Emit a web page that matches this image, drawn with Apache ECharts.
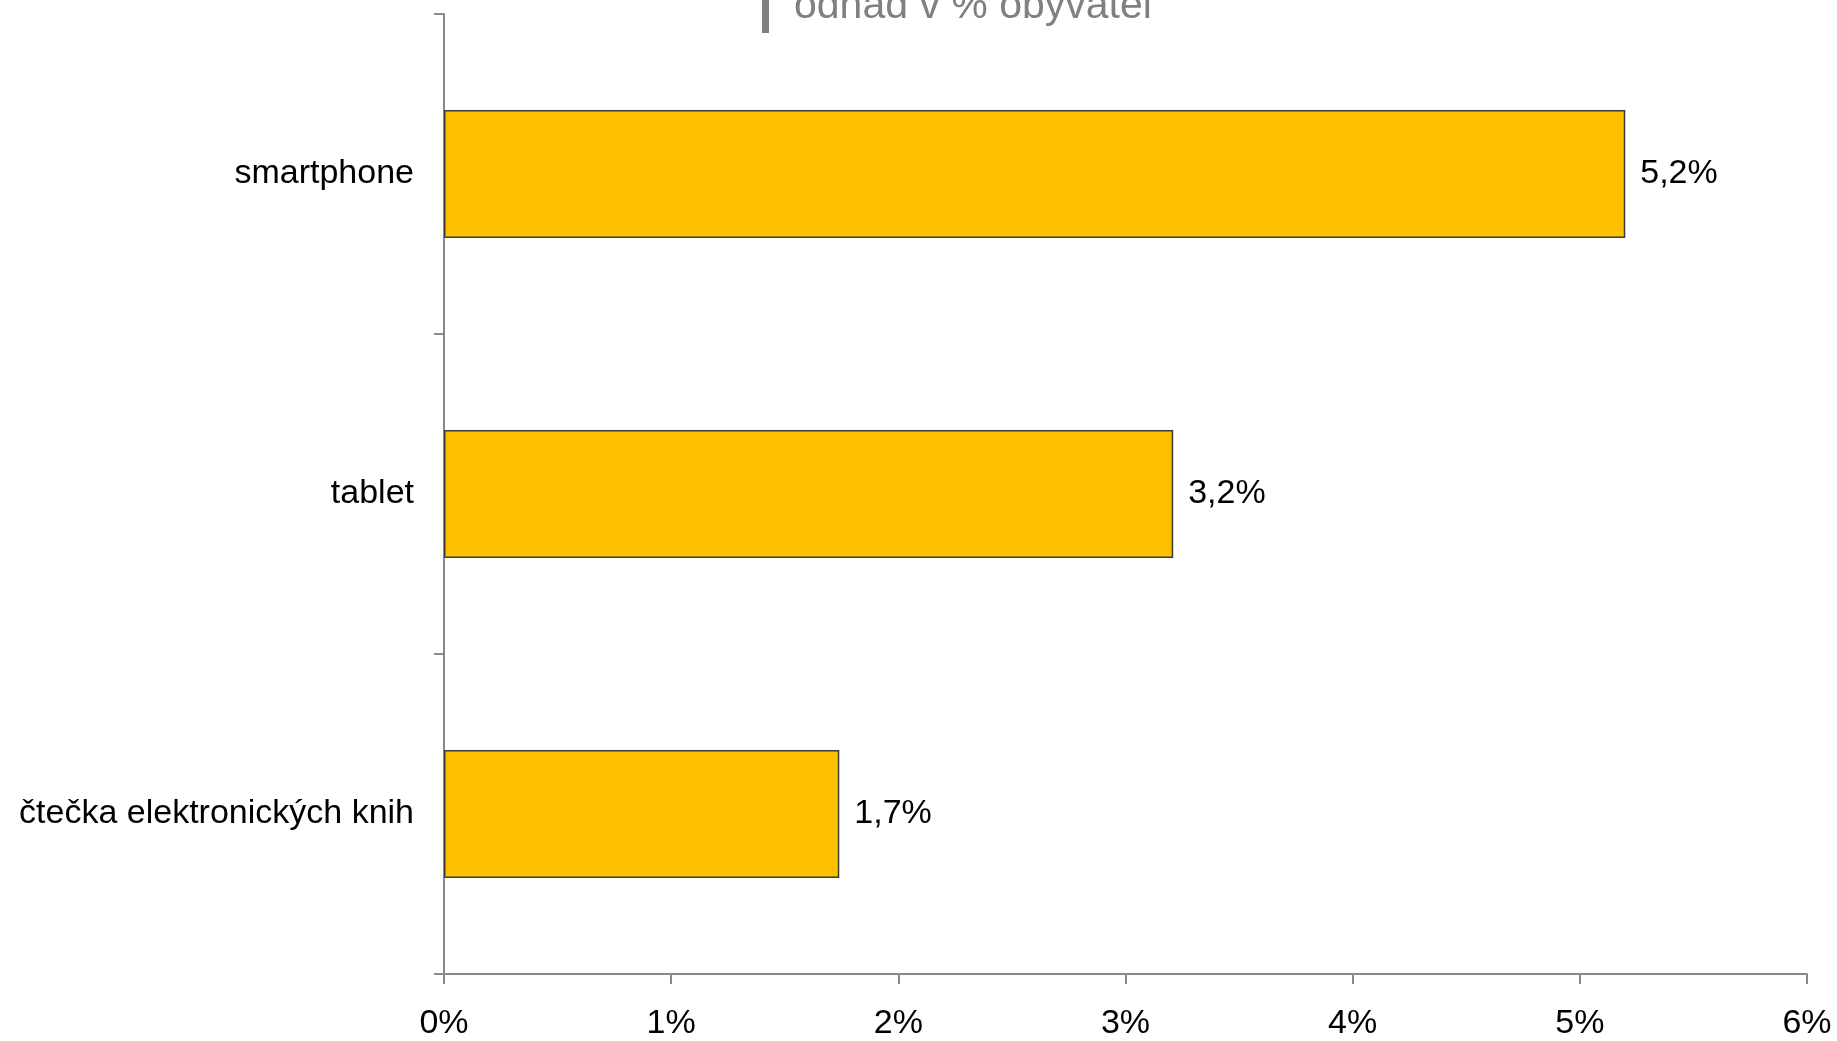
<!DOCTYPE html>
<html>
<head>
<meta charset="utf-8">
<script src="https://cdn.jsdelivr.net/npm/echarts@6/dist/echarts.min.js"></script>
<style>
  html, body { margin: 0; padding: 0; background: #fff; }
  #chart { width: 1837px; height: 1041px; }
</style>
</head>
<body>
<div id="chart"></div>
<script>
// bottom to top, as the category axis counts them
const categories = ['čtečka elektronických knih', 'tablet', 'smartphone']
const values = [1.74, 3.21, 5.2]
const xTicks = [0, 1, 2, 3, 4, 5, 6]
const subtitle = 'odhad v % obyvatel'

const font = '"Liberation Sans", Arial, sans-serif'
const axisGray = '#898989'

const chart = echarts.init(document.getElementById('chart'), null, { renderer: 'canvas' })

chart.setOption({
  backgroundColor: '#fff',
  animation: false,
  textStyle: { fontFamily: font },
  grid: { left: 444, right: 30, top: 14, bottom: 67, containLabel: false },
  graphic: [
    {
      type: 'rect',
      shape: { x: 762, y: 0, width: 7, height: 33 },
      style: { fill: '#808080' },
    },
    {
      type: 'text',
      x: 794,
      y: 7,
      style: {
        text: subtitle,
        fontFamily: font,
        fontSize: 41,
        fill: '#808080',
        verticalAlign: 'middle',
      },
    },
  ],
  xAxis: {
    type: 'value',
    min: xTicks[0],
    max: xTicks[xTicks.length - 1],
    interval: 1,
    axisLine: { show: true, lineStyle: { color: axisGray, width: 2 } },
    axisTick: { show: true, length: 10, lineStyle: { color: axisGray, width: 2 } },
    splitLine: { show: false },
    axisLabel: {
      color: '#000',
      fontSize: 34,
      fontFamily: font,
      margin: 33,
      formatter: v => v + '%',
    },
  },
  yAxis: {
    type: 'category',
    data: categories,
    axisLine: { show: true, lineStyle: { color: axisGray, width: 2 } },
    axisTick: { show: true, length: 10, lineStyle: { color: axisGray, width: 2 } },
    axisLabel: { color: '#000', fontSize: 34, fontFamily: font, margin: 30 },
  },
  series: [
    {
      type: 'bar',
      data: values,
      barWidth: '40%',
      itemStyle: { color: '#FFC000', borderColor: '#3a3a3a', borderWidth: 1.5 },
      label: {
        show: true,
        position: 'right',
        distance: 15,
        color: '#000',
        fontSize: 34,
        fontFamily: font,
        formatter: p => p.value.toFixed(1).replace('.', ',') + '%',
      },
    },
  ],
})
</script>
</body>
</html>
